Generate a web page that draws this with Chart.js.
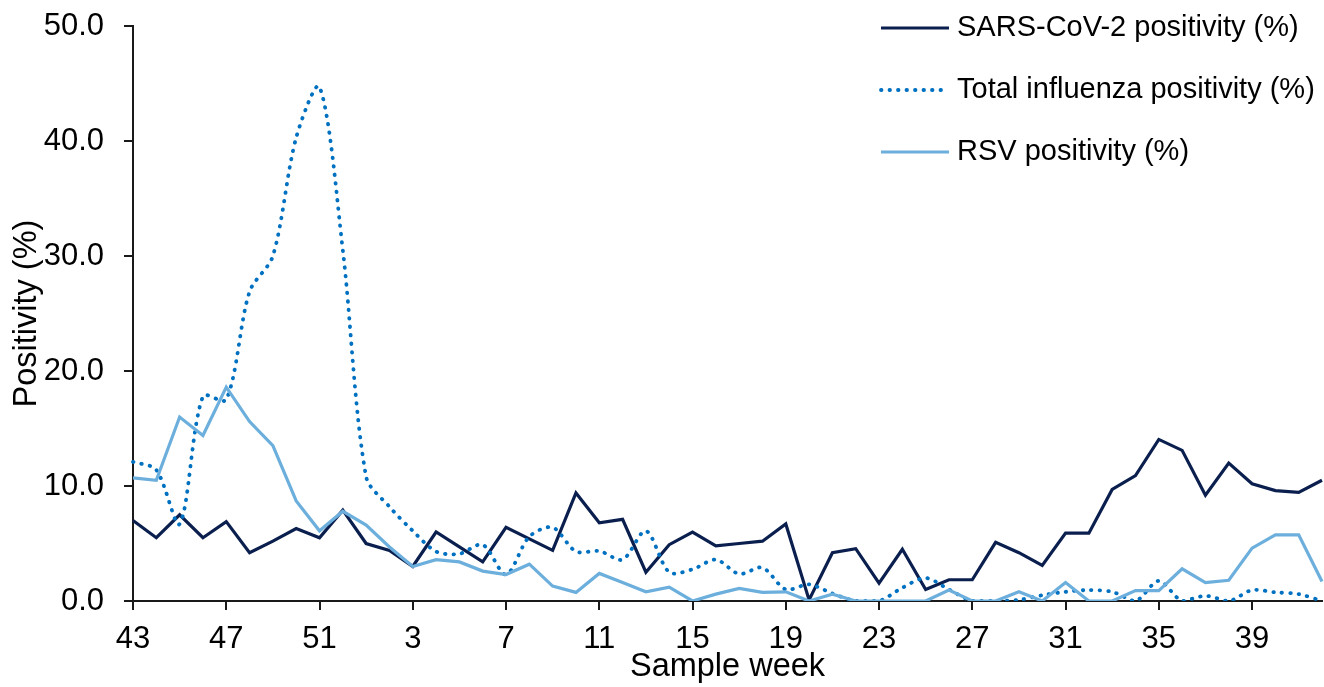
<!DOCTYPE html>
<html lang="en">
<head>
    <meta charset="UTF-8">
    <title>Positivity by sample week</title>
    <script src="https://cdn.jsdelivr.net/npm/chart.js"></script>
    <style>
        html, body { margin: 0; padding: 0; background: #fff; }
        .chart-box { width: 1324px; height: 687px; position: relative; }
    </style>
</head>
<body>
    <div class="chart-box">
        <canvas id="positivityChart"></canvas>
    </div>

    <script>
        // sample weeks, 43 of one year through 42 of the next
        const weeks = [43, 44, 45, 46, 47, 48, 49, 50, 51, 52,
            1, 2, 3, 4, 5, 6, 7, 8, 9, 10, 11, 12, 13, 14, 15, 16, 17, 18, 19, 20, 21,
            22, 23, 24, 25, 26, 27, 28, 29, 30, 31, 32, 33, 34, 35, 36, 37, 38, 39, 40, 41, 42];

        const sarsPositivity = [7.0, 5.5, 7.5, 5.5, 6.9, 4.2, 5.2, 6.3, 5.5, 7.9,
            5.0, 4.4, 3.0, 6.0, 4.7, 3.4, 6.4, 5.4, 4.4, 9.4, 6.8, 7.1, 2.5, 4.9, 6.0, 4.8, 5.0, 5.2, 6.7, 0.1, 4.2,
            4.55, 1.55, 4.5, 1.0, 1.85, 1.85, 5.1, 4.2, 3.1, 5.9, 5.9, 9.7, 10.9, 14.05, 13.1, 9.2, 12.0, 10.2, 9.6, 9.45, 10.5];

        const fluPositivity = [12.1, 11.4, 6.7, 17.8, 17.5, 26.9, 30.0, 40.3, 44.7, 30.5,
            10.8, 8.2, 6.1, 4.3, 4.1, 4.9, 2.3, 5.6, 6.4, 4.3, 4.35, 3.6, 6.1, 2.5, 2.75, 3.6, 2.35, 2.9, 1.0, 1.45, 0.65,
            0, 0, 1.15, 2.0, 1.0, 0, 0, 0.1, 0.5, 0.8, 0.95, 0.8, 0, 1.75, 0, 0.45, 0, 0.95, 0.75, 0.6, 0];

        const rsvPositivity = [10.7, 10.5, 16.0, 14.4, 18.6, 15.6, 13.5, 8.7, 6.1, 7.8,
            6.6, 4.7, 3.0, 3.6, 3.4, 2.6, 2.3, 3.2, 1.3, 0.75, 2.4, 1.6, 0.8, 1.2, 0, 0.6, 1.1, 0.75, 0.8, 0, 0.6,
            0, 0, 0, 0, 0.95, 0, 0, 0.8, 0, 1.6, 0, 0, 0.9, 0.9, 2.8, 1.6, 1.8, 4.6, 5.75, 5.75, 1.7];

        const seriesNames = ['SARS-CoV-2 positivity (%)', 'Total influenza positivity (%)', 'RSV positivity (%)'];

        const FONT = "'Liberation Sans', Arial, sans-serif";
        const AXIS_COLOR = '#1a1a1a';

        // legend drawn inside the plot, top right, like the original
        const cornerLegend = {
            id: 'cornerLegend',
            afterDraw(chart) {
                const ctx = chart.ctx;
                const rows = [28, 90, 152];
                ctx.save();
                ctx.font = '29px ' + FONT;
                ctx.textBaseline = 'middle';
                ctx.textAlign = 'left';
                chart.data.datasets.forEach((ds, i) => {
                    const y = rows[i];
                    ctx.beginPath();
                    ctx.strokeStyle = ds.borderColor;
                    ctx.lineWidth = ds.borderWidth;
                    ctx.lineCap = ds.borderCapStyle || 'butt';
                    ctx.setLineDash(ds.borderDash || []);
                    ctx.moveTo(881, y);
                    ctx.lineTo(949, y);
                    ctx.stroke();
                    ctx.setLineDash([]);
                    ctx.fillStyle = '#000';
                    ctx.fillText(ds.label, 957, y);
                });
                ctx.restore();
            }
        };

        const ctx = document.getElementById('positivityChart').getContext('2d');
        new Chart(ctx, {
            type: 'line',
            data: {
                labels: weeks.map(String),
                datasets: [{
                    label: seriesNames[0],
                    data: sarsPositivity,
                    borderColor: '#0b1f4f',
                    borderWidth: 3.2,
                    pointRadius: 0,
                    tension: 0,
                    order: 3
                }, {
                    label: seriesNames[1],
                    data: fluPositivity,
                    borderColor: '#0070c0',
                    borderWidth: 3.8,
                    borderDash: [0.5, 8],
                    borderCapStyle: 'round',
                    pointRadius: 0,
                    tension: 0.3,
                    order: 2
                }, {
                    label: seriesNames[2],
                    data: rsvPositivity,
                    borderColor: '#6cafdc',
                    borderWidth: 3.2,
                    pointRadius: 0,
                    tension: 0,
                    order: 1
                }]
            },
            options: {
                responsive: true,
                maintainAspectRatio: false,
                animation: false,
                layout: { padding: { top: 26, right: 2, left: 0, bottom: 0 } },
                plugins: {
                    legend: { display: false },
                    tooltip: { enabled: false }
                },
                scales: {
                    x: {
                        offset: false,
                        grid: {
                            drawOnChartArea: false,
                            drawTicks: true,
                            tickLength: 9,
                            color: AXIS_COLOR,
                            lineWidth: 2
                        },
                        border: { display: true, color: AXIS_COLOR, width: 2 },
                        ticks: {
                            autoSkip: false,
                            maxRotation: 0,
                            padding: 11,
                            color: '#000',
                            font: { family: FONT, size: 31 },
                            callback: (val, idx) => idx % 4 === 0 ? weeks[idx] : null
                        },
                        title: {
                            display: true,
                            text: 'Sample week',
                            color: '#000',
                            font: { family: FONT, size: 32.5 },
                            padding: { top: 0, bottom: 0 }
                        },
                        afterFit: (scale) => { scale.height = 86; }
                    },
                    y: {
                        min: 0,
                        max: 50,
                        grid: {
                            drawOnChartArea: false,
                            drawTicks: true,
                            tickLength: 9,
                            color: AXIS_COLOR,
                            lineWidth: 2
                        },
                        border: { display: true, color: AXIS_COLOR, width: 2 },
                        ticks: {
                            stepSize: 10,
                            padding: 20,
                            color: '#000',
                            font: { family: FONT, size: 31 },
                            callback: (v) => v.toFixed(1)
                        },
                        title: {
                            display: true,
                            text: 'Positivity (%)',
                            color: '#000',
                            font: { family: FONT, size: 32.5 },
                            padding: { top: 8, bottom: 0 }
                        },
                        afterFit: (scale) => {
                            scale.width = 133;
                            // let layout padding alone decide top/bottom of the plot
                            scale.paddingTop = 0;
                            scale.paddingBottom = 0;
                        }
                    }
                }
            },
            plugins: [cornerLegend]
        });
    </script>
</body>
</html>
